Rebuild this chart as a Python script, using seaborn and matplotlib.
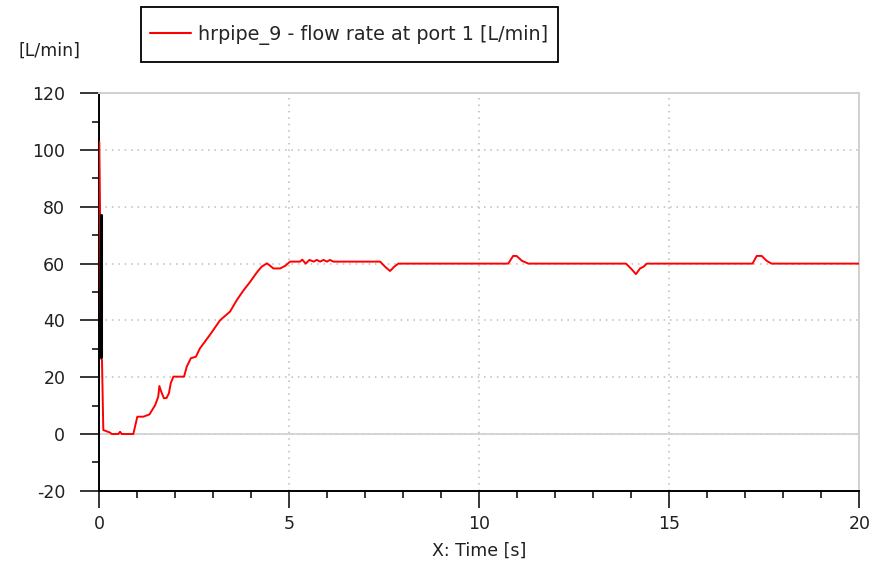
import matplotlib
matplotlib.use('Agg')
import matplotlib.pyplot as plt
import numpy as np
import pandas as pd
import seaborn as sns
from matplotlib.ticker import MultipleLocator

# time [s] and flow rate [L/min]
time_s = [0.0, 0.02, 0.05, 0.07, 0.105, 0.28, 0.33, 0.5, 0.545, 0.59, 0.895,
          1.0, 1.16, 1.32, 1.47, 1.55, 1.58, 1.63, 1.70, 1.77, 1.83, 1.88,
          1.95, 2.23, 2.30, 2.41, 2.54, 2.65, 2.91, 3.18, 3.44, 3.62, 3.79,
          3.97, 4.14, 4.27, 4.41, 4.49, 4.58, 4.76, 4.89, 5.02, 5.28, 5.34,
          5.43, 5.53, 5.64, 5.72, 5.81, 5.90, 5.99, 6.07, 6.16, 7.39, 7.52,
          7.65, 7.76, 7.87, 10.76, 10.89, 10.98, 11.12, 11.29, 13.86, 14.01,
          14.12, 14.23, 14.32, 14.41, 17.19, 17.30, 17.43, 17.56, 17.69, 20.0]
flow_lpm = [102.9, 77.1, 26.5, 26.1, 1.4, 0.5, 0.0, 0.0, 0.8, 0.0, 0.0,
            6.1, 6.1, 6.9, 10.2, 13.1, 16.9, 14.9, 12.6, 12.7, 14.3, 17.9,
            20.2, 20.2, 23.7, 26.7, 27.2, 30.2, 34.9, 40.1, 43.1, 47.2, 50.5,
            53.6, 56.8, 58.9, 60.1, 59.3, 58.3, 58.3, 59.2, 60.7, 60.7, 61.4,
            60.0, 61.3, 60.7, 61.3, 60.7, 61.3, 60.7, 61.3, 60.7, 60.7, 58.9,
            57.4, 58.9, 60.0, 60.0, 62.7, 62.7, 61.0, 60.0, 60.0, 58.0,
            56.3, 58.3, 58.9, 60.0, 60.0, 62.7, 62.7, 61.0, 60.0, 60.0]

# dark spike drawn near t=0
spike_t = [0.05, 0.05]
spike_v = [77.0, 27.0]

x_ticks = [0, 5, 10, 15, 20]
y_ticks = [-20, 0, 20, 40, 60, 80, 100, 120]
label = 'hrpipe_9 - flow rate at port 1 [L/min]'


def main() -> None:
    sns.set_theme(style='white')
    plt.rcParams['font.family'] = ['DejaVu Sans']
    plt.rcParams['axes.unicode_minus'] = False

    df = pd.DataFrame({'Time': time_s, 'Flow': flow_lpm})

    fig = plt.figure(figsize=(8.86, 5.69), dpi=100)
    ax = fig.add_axes([0.1121, 0.1374, 0.8578, 0.6988])

    ax.axhline(0, color='#d0d0d0', lw=1.2, zorder=1)
    sns.lineplot(data=df, x='Time', y='Flow', color='#ff0000', lw=1.4,
                 estimator=None, sort=False, label=label, ax=ax, zorder=3)
    sns.lineplot(x=spike_t, y=spike_v, color='black', lw=2.2,
                 estimator=None, sort=False, ax=ax, zorder=4, legend=False)

    ax.set_xlim(0, 20)
    ax.set_ylim(-20, 120)
    ax.set_xticks(x_ticks)
    ax.set_yticks(y_ticks)
    ax.xaxis.set_minor_locator(MultipleLocator(1))
    ax.yaxis.set_minor_locator(MultipleLocator(10))
    ax.grid(which='major', color='#bcbcbc', lw=1.1, linestyle=(0, (1, 3.2)), zorder=0)

    ax.tick_params(axis='x', which='major', direction='out', length=12, width=1.1,
                   color='black', pad=5.5, labelsize=12.5, labelcolor='#202020', bottom=True)
    ax.tick_params(axis='y', which='major', direction='out', length=13.5, width=1.1,
                   color='black', pad=11, labelsize=12.5, labelcolor='#202020', left=True)
    ax.tick_params(which='minor', direction='out', length=5, width=1.1, color='black',
                   bottom=True, left=True)

    for side in ('left', 'bottom'):
        ax.spines[side].set_color('black')
        ax.spines[side].set_linewidth(1.4)
    for side in ('top', 'right'):
        ax.spines[side].set_color('#d0d0d0')
        ax.spines[side].set_linewidth(1.4)

    ax.set_xlabel('X: Time [s]', fontsize=12.5, color='#202020', labelpad=6)
    ax.set_ylabel('')
    fig.text(0.0564, 0.910, '[L/min]', fontsize=12.5, color='#202020',
             ha='center', va='center')

    leg = ax.legend(loc='upper left', bbox_to_anchor=(0.1588, 0.9872),
                    bbox_transform=fig.transFigure, fontsize=13.8, frameon=True,
                    fancybox=False, framealpha=1, edgecolor='black',
                    handlelength=2.1, handleheight=2.45, handletextpad=0.4,
                    borderpad=0.5, borderaxespad=0)
    leg.get_frame().set_linewidth(1.3)
    for line in leg.get_lines():
        line.set_linewidth(1.5)
        # move the sample line down to the text's middle
        line.set_ydata(np.asarray(line.get_ydata()) - 3.5)

    fig.savefig('out.png', dpi=100)


if __name__ == '__main__':
    main()
